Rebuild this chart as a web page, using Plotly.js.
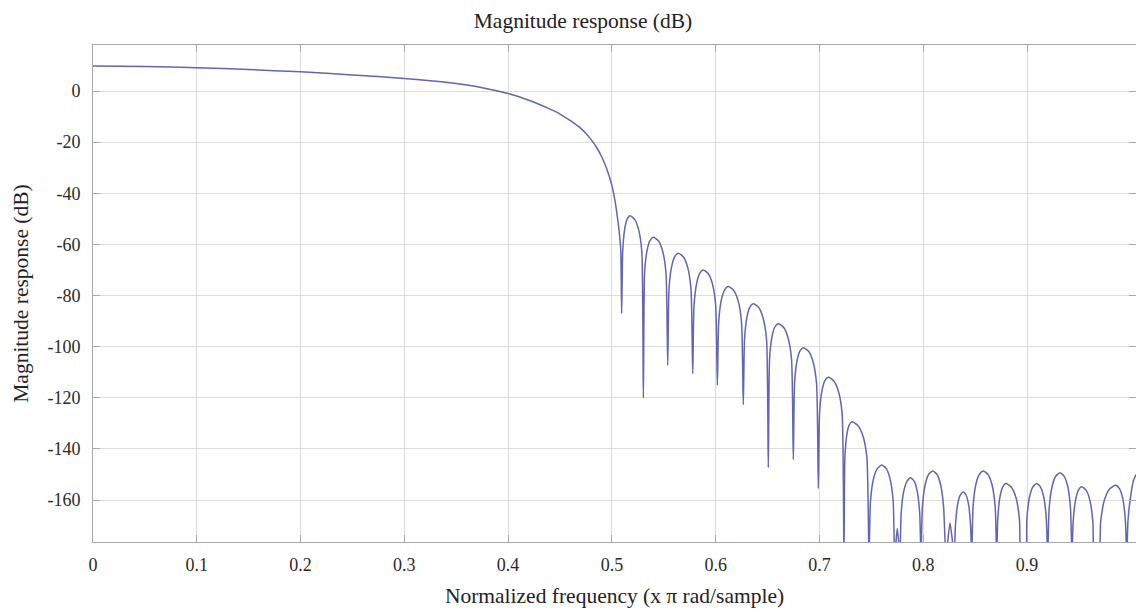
<!DOCTYPE html>
<html>
<head>
<meta charset="utf-8">
<script src="https://cdn.plot.ly/plotly-3.0.1.min.js"></script>
<style>
  html, body { margin: 0; padding: 0; background: #ffffff; }
  #chart { width: 1136px; height: 612px; }
</style>
</head>
<body>
<div id="chart"></div>
<script>
// Normalized frequency (x pi rad/sample)
const freq = [
  // passband and transition
  0, 0.05, 0.1, 0.15, 0.2, 0.25, 0.3, 0.325, 0.35, 0.375, 0.4, 0.42, 0.44, 0.45, 0.46, 0.47, 0.475, 0.48, 0.485, 0.49, 0.495, 0.5, 0.503, 0.505, 0.507, 0.5085, 0.5094,
  // sidelobes
  0.5104, 0.5122, 0.5146, 0.5174, 0.5219, 0.5258, 0.5288, 0.5303,
  0.5315, 0.5337, 0.5365, 0.5399, 0.5448, 0.5489, 0.5521, 0.5538,
  0.5550, 0.5574, 0.5604, 0.5640, 0.5689, 0.5730, 0.5762, 0.5779,
  0.5791, 0.5815, 0.5845, 0.5881, 0.5928, 0.5969, 0.6000, 0.6016,
  0.6029, 0.6053, 0.6085, 0.6122, 0.6172, 0.6216, 0.6249, 0.6266,
  0.6278, 0.6300, 0.6328, 0.6362, 0.6413, 0.6456, 0.6490, 0.6507,
  0.6519, 0.6541, 0.6569, 0.6603, 0.6654, 0.6697, 0.6731, 0.6748,
  0.6760, 0.6782, 0.6810, 0.6844, 0.6895, 0.6938, 0.6972, 0.6989,
  0.7001, 0.7023, 0.7051, 0.7085, 0.7138, 0.7183, 0.7218, 0.7236,
  0.7245, 0.7262, 0.7285, 0.7311, 0.7369, 0.7419, 0.7457, 0.7477,
  0.7492, 0.7520, 0.7557, 0.7600, 0.7644, 0.7681, 0.7710, 0.7725, 0.7750, 0.7775,
  0.7787, 0.7811, 0.7843, 0.7879, 0.7914, 0.7943, 0.7966, 0.7978,
  0.7992, 0.8018, 0.8051, 0.8091, 0.8133, 0.8168, 0.8196, 0.8219, 0.8258, 0.8299,
  0.8309, 0.8329, 0.8355, 0.8386, 0.8414, 0.8439, 0.8457, 0.8467,
  0.8480, 0.8506, 0.8540, 0.8579, 0.8624, 0.8663, 0.8693, 0.8708,
  0.8718, 0.8738, 0.8765, 0.8795, 0.8848, 0.8893, 0.8927, 0.8945, 0.8985,
  0.8998, 0.9023, 0.9055, 0.9093, 0.9130, 0.9162, 0.9186, 0.9199,
  0.9213, 0.9241, 0.9276, 0.9318, 0.9358, 0.9393, 0.9419, 0.9433,
  0.9444, 0.9466, 0.9494, 0.9527, 0.9570, 0.9607, 0.9635, 0.9650, 0.9690,
  0.9710, 0.9748, 0.9797, 0.9855, 0.9892, 0.9924, 0.9948, 0.9961,
  0.9973, 0.9995, 1.0025, 1.005
];

// Magnitude response (dB)
const magDb = [
  9.8, 9.6, 9.1, 8.4, 7.5, 6.3, 4.9, 4.0, 2.9, 1.3, -1.0, -3.6, -7, -9.0, -11.6, -14.6, -16.6, -19, -21.9, -25.6, -30.4, -37, -43, -48.5, -55, -62, -87,
  -62.8, -54.3, -50.2, -48.8, -50.2, -54.3, -62.8, -120,
  -71.2, -62.7, -58.6, -57.2, -58.6, -62.7, -71.2, -107.3,
  -77.5, -69, -64.9, -63.5, -64.9, -69, -77.5, -110.6,
  -84, -75.5, -71.4, -70, -71.4, -75.5, -84, -115.1,
  -90.5, -82, -77.9, -76.5, -77.9, -82, -90.5, -122.7,
  -97.2, -88.7, -84.6, -83.2, -84.6, -88.7, -97.2, -147.3,
  -105, -96.5, -92.4, -91, -92.4, -96.5, -105, -144.1,
  -114.4, -105.9, -101.8, -100.4, -101.8, -105.9, -114.4, -155.5,
  -126, -117.5, -113.4, -112, -113.4, -117.5, -126, -182,
  -143.4, -134.9, -130.8, -129.4, -130.8, -134.9, -143.4, -182,
  -160.3, -151.8, -147.7, -146.3, -147.7, -151.8, -160.3, -182, -171, -182,
  -165.3, -156.8, -152.7, -151.3, -152.7, -156.8, -165.3, -182,
  -162.6, -154.1, -150, -148.6, -150, -154.1, -162.6, -182, -169, -182,
  -170.8, -162.3, -158.2, -156.8, -158.2, -162.3, -170.8, -182,
  -162.6, -154.1, -150, -148.6, -150, -154.1, -162.6, -182,
  -167.5, -159, -154.9, -153.5, -154.9, -159, -167.5, -182, -182,
  -167.5, -159, -154.9, -153.5, -154.9, -159, -167.5, -182,
  -163.3, -154.8, -150.7, -149.3, -150.7, -154.8, -163.3, -182,
  -168.8, -160.3, -156.2, -154.8, -156.2, -160.3, -168.8, -182, -182,
  -168.2, -159.7, -155.6, -154.2, -155.6, -159.7, -168.2, -182,
  -168, -159.5, -152.5, -150
];

const xTickVals = [0, 0.1, 0.2, 0.3, 0.4, 0.5, 0.6, 0.7, 0.8, 0.9];
const xTickText = ['0', '0.1', '0.2', '0.3', '0.4', '0.5', '0.6', '0.7', '0.8', '0.9'];
const yTickVals = [0, -20, -40, -60, -80, -100, -120, -140, -160];
const yTickText = ['0', '-20', '-40', '-60', '-80', '-100', '-120', '-140', '-160'];

const serif = 'Liberation Serif, Times New Roman, serif';

const trace = {
  x: freq,
  y: magDb,
  type: 'scatter',
  mode: 'lines',
  line: { color: '#6464b2', width: 1.5, shape: 'spline', smoothing: 0.6 },
  hoverinfo: 'x+y'
};

const axisCommon = {
  showline: true,
  linecolor: '#a8a8a8',
  linewidth: 1,
  mirror: 'allticks',
  ticks: 'inside',
  ticklen: 7,
  tickcolor: '#a8a8a8',
  showgrid: true,
  gridcolor: '#dedede',
  gridwidth: 1,
  zeroline: false,
  tickfont: { family: serif, size: 18, color: '#2a2a2a' }
};

const layout = {
  width: 1136,
  height: 612,
  margin: { l: 93, r: 0, t: 45, b: 70 },
  paper_bgcolor: '#ffffff',
  plot_bgcolor: '#ffffff',
  showlegend: false,
  title: {
    text: 'Magnitude response (dB)',
    font: { family: serif, size: 21.5, color: '#222222' },
    x: 583 / 1136,
    xref: 'container',
    xanchor: 'center',
    y: 1 - 20 / 612,
    yref: 'container',
    yanchor: 'middle'
  },
  xaxis: Object.assign({}, axisCommon, {
    range: [0, 1.005],
    tickvals: xTickVals,
    ticktext: xTickText,
    ticklabelstandoff: 6,
    title: {
      text: 'Normalized frequency (x \u03c0 rad/sample)',
      font: { family: serif, size: 21.5, color: '#222222' },
      standoff: 14
    }
  }),
  yaxis: Object.assign({}, axisCommon, {
    range: [-176.4, 18],
    tickvals: yTickVals,
    ticktext: yTickText,
    ticklabelstandoff: 8,
    title: {
      text: 'Magnitude response (dB)',
      font: { family: serif, size: 21.5, color: '#222222' },
      standoff: 12
    }
  })
};

Plotly.newPlot('chart', [trace], layout, { displayModeBar: false, staticPlot: true });
</script>
</body>
</html>
